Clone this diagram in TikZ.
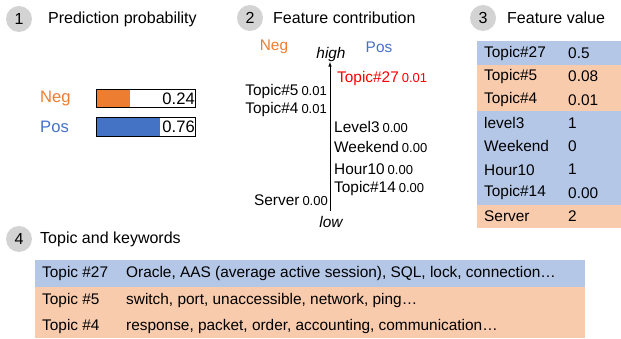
\documentclass[tikz,border=0pt]{standalone}
\usepackage{fontspec}
\setmainfont{Liberation Sans}
\usepackage{xcolor}

\definecolor{negc}{HTML}{ED7D31}
\definecolor{posc}{HTML}{4472C4}
\definecolor{rowblue}{HTML}{B4C7E7}
\definecolor{roworange}{HTML}{F8CBAD}
\definecolor{numgray}{HTML}{D3D3D3}

\newcommand{\fsz}[1]{\fontsize{#1}{#1}\selectfont}

\begin{document}
\begin{tikzpicture}[x=1pt, y=-1pt,
  stepnum/.style={circle, fill=numgray, minimum size=26pt, inner sep=0pt, font=\fsz{16}},
  title/.style={anchor=west, inner sep=0pt, font=\fsz{16}},
  lab/.style={inner sep=0pt, font=\fsz{15.4}},
  val/.style={inner sep=0pt, font=\fsz{16.6}}]
  \useasboundingbox (0,0) rectangle (621,339);

  % 1: prediction probability
  \node[stepnum] (n1) at (19,19) {1};
  \node[title] (t1) at (48,19) {Prediction probability};
  \node[val, anchor=west, text=negc] (neg) at (40,99) {Neg};
  \node[val, anchor=west, text=posc] (pos) at (40,127) {Pos};
  \fill[negc] (96,89) rectangle (130,107);
  \draw[line width=0.6pt] (96,89) rectangle (195,107);
  \node[val, anchor=east] (pneg) at (195,98.5) {0.24};
  \fill[posc] (96,117) rectangle (160,136);
  \draw[line width=0.6pt] (96,117) rectangle (195,136);
  \node[val, anchor=east] (ppos) at (195,126.5) {0.76};

  % 2: feature contribution
  \node[stepnum] (n2) at (250,18) {2};
  \node[title] (t2) at (273,18) {Feature contribution};
  \node[lab, text=negc] (cneg) at (274,47) {Neg};
  \node[lab, text=posc] (cpos) at (379,47) {Pos};
  \coordinate (axlow) at (330,211);
  \coordinate (axhigh) at (330,62);
  \draw[-latex, line width=0.6pt] (axlow) -- (axhigh);
  \node[lab, font=\fsz{15.4}\itshape] (high) at (331,55) {high};
  \node[lab, font=\fsz{15.4}\itshape] (low) at (331,222) {low};
  \node[lab, anchor=west, text=red] (c27) at (337,79) {Topic\#27\hspace{3pt}{\fsz{13}0.01}};
  \node[lab, anchor=east] (c5) at (327,92) {Topic\#5\hspace{3pt}{\fsz{13}0.01}};
  \node[lab, anchor=east] (c4) at (327,110) {Topic\#4\hspace{3pt}{\fsz{13}0.01}};
  \node[lab, anchor=west] (clev) at (334,127) {Level3\hspace{3pt}{\fsz{13}0.00}};
  \node[lab, anchor=west] (cweek) at (334,147) {Weekend\hspace{3pt}{\fsz{13}0.00}};
  \node[lab, anchor=west] (chour) at (334,169) {Hour10\hspace{3pt}{\fsz{13}0.00}};
  \node[lab, anchor=west] (c14) at (334,189) {Topic\#14\hspace{3pt}{\fsz{13}0.00}};
  \node[lab, anchor=east] (cserv) at (328,200) {Server\hspace{3pt}{\fsz{13}0.00}};

  % 3: feature value
  \node[stepnum] (n3) at (483,18) {3};
  \node[title] (t3) at (507,18) {Feature value};
  \foreach \name/\v/\col [count=\i from 0] in {Topic\#27/0.5/rowblue, Topic\#5/0.08/roworange,
      Topic\#4/0.01/roworange, level3/1/rowblue, Weekend/0/rowblue, Hour10/1/rowblue,
      Topic\#14/0.00/rowblue, Server/2/roworange} {
    \fill[\col] (477,{41.5+23.3*\i}) rectangle (621,{41.5+23.3*(\i+1)});
    \node[lab, anchor=west] (fn\i) at (484,{53.2+23.3*\i}) {\name};
    \node[lab, anchor=west] (fv\i) at (568,{53.2+23.3*\i}) {\v};
  }

  % 4: topic and keywords
  \node[stepnum] (n4) at (19,239) {4};
  \node[title] (t4) at (40,239) {Topic and keywords};
  \fill[rowblue] (35,260) rectangle (585,287);
  \fill[roworange] (35,287) rectangle (585,338);
  \node[lab, anchor=west] (k27) at (42,274) {Topic \#27};
  \node[lab, anchor=west] (w27) at (126,274) {Oracle, AAS (average active session), SQL, lock, connection…};
  \node[lab, anchor=west] (k5) at (42,301) {Topic \#5};
  \node[lab, anchor=west] (w5) at (126,301) {switch, port, unaccessible, network, ping…};
  \node[lab, anchor=west] (k4) at (42,327) {Topic \#4};
  \node[lab, anchor=west] (w4) at (126,327) {response, packet, order, accounting, communication…};
\end{tikzpicture}
\end{document}
